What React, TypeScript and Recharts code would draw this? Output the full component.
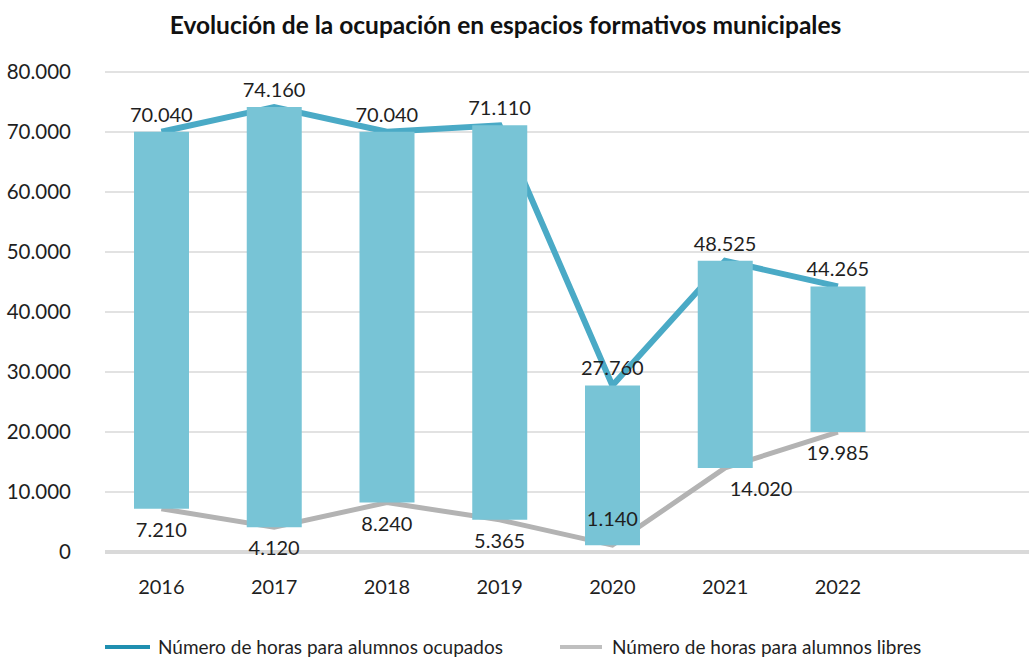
import { ComposedChart, Bar, Line, XAxis, YAxis, CartesianGrid, LabelList } from "recharts";

const years = ["2016", "2017", "2018", "2019", "2020", "2021", "2022", ""];
const ocupados = [70040, 74160, 70040, 71110, 27760, 48525, 44265];
const libres = [7210, 4120, 8240, 5365, 1140, 14020, 19985];
const yTicks = [0, 10000, 20000, 30000, 40000, 50000, 60000, 70000, 80000];

const data = years.map((year, i) => ({
  year,
  ocupados: i < ocupados.length ? ocupados[i] : null,
  libres: i < libres.length ? libres[i] : null,
  rango: i < ocupados.length ? [libres[i], ocupados[i]] : null,
}));

const fmt = (n: number) => String(n).replace(/\B(?=(\d{3})+(?!\d))/g, ".");

const FONT = "Lato, 'Open Sans', sans-serif";
const TEXT = "#1f1f1f";

const OcupadosLabel = (props: any) => {
  const { x, y, value } = props;
  if (value == null) return null;
  return (
    <text x={x} y={y - 18} textAnchor="middle" dominantBaseline="central" fontSize={20} fill={TEXT} fontFamily={FONT}>
      {fmt(value)}
    </text>
  );
};

const LibresLabel = (props: any) => {
  const { x, y, value, index } = props;
  if (value == null) return null;
  // small values sit inside the bar, above the point
  const dy = value < 2000 ? -27 : 20;
  const dx = index === 5 ? 36 : 0;
  return (
    <text x={x + dx} y={y + dy} textAnchor="middle" dominantBaseline="central" fontSize={20} fill={TEXT} fontFamily={FONT}>
      {fmt(value)}
    </text>
  );
};

export default function App() {
  return (
    <div style={{ position: "absolute", left: 0, top: 0, width: 1029, height: 657, background: "#fff", fontFamily: FONT }}>
      <div
        style={{
          position: "absolute", left: 0, top: 10, width: 1011, textAlign: "center",
          fontSize: 24.5, fontWeight: 700, color: "#111",
        }}
      >
        Evolución de la ocupación en espacios formativos municipales
      </div>
      <ComposedChart width={1029} height={657} data={data} margin={{ top: 72, right: 0, bottom: 65, left: 0 }}>
        <CartesianGrid vertical={false} stroke="#d9d9d9" strokeWidth={1.5} />
        <XAxis
          dataKey="year"
          height={40}
          padding={{ left: 0, right: 22 }}
          axisLine={{ stroke: "#d9d9d9", strokeWidth: 4 }}
          tickLine={false}
          tickMargin={22}
          tick={{ fontSize: 20, fill: TEXT, fontFamily: FONT }}
        />
        <YAxis
          width={105}
          domain={[0, 80000]}
          ticks={yTicks}
          tickFormatter={fmt}
          axisLine={false}
          tickLine={false}
          tickMargin={28}
          tick={{ fontSize: 20.5, fill: TEXT, fontFamily: FONT }}
        />
        <Line dataKey="libres" stroke="#b3b3b3" strokeWidth={5} dot={false} activeDot={false} isAnimationActive={false} />
        <Line dataKey="ocupados" stroke="#4aaac6" strokeWidth={6} dot={false} activeDot={false} isAnimationActive={false} />
        <Bar dataKey="rango" fill="#78c4d6" barSize={55} zIndex={450} isAnimationActive={false} />
        <Line dataKey="ocupados" stroke="none" dot={false} activeDot={false} zIndex={500} isAnimationActive={false}>
          <LabelList dataKey="ocupados" content={OcupadosLabel} />
        </Line>
        <Line dataKey="libres" stroke="none" dot={false} activeDot={false} zIndex={500} isAnimationActive={false}>
          <LabelList dataKey="libres" content={LibresLabel} />
        </Line>
      </ComposedChart>
      <div style={{ position: "absolute", left: 105, top: 635, display: "flex", alignItems: "center", fontSize: 19, color: TEXT }}>
        <span style={{ display: "inline-block", width: 45, height: 4, background: "#1f8fb0", marginRight: 8 }} />
        <span>Número de horas para alumnos ocupados</span>
      </div>
      <div style={{ position: "absolute", left: 560, top: 635, display: "flex", alignItems: "center", fontSize: 19, color: TEXT }}>
        <span style={{ display: "inline-block", width: 42, height: 4, background: "#bfbfbf", marginRight: 10 }} />
        <span>Número de horas para alumnos libres</span>
      </div>
    </div>
  );
}
